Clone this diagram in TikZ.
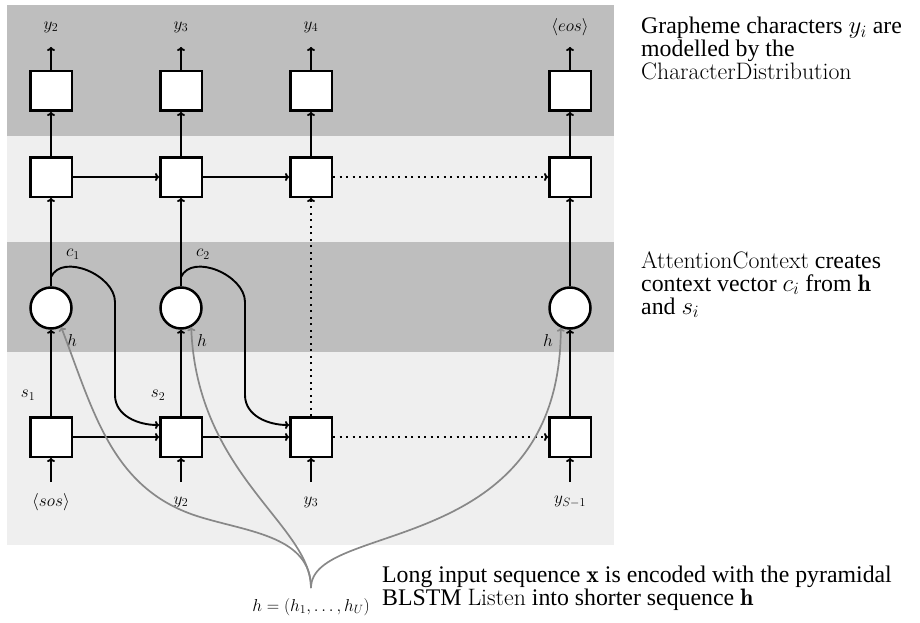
\documentclass[tikz,border=0pt]{standalone}
\usepackage{fontspec}
\newfontfamily\tnr{Liberation Serif}
\usetikzlibrary{arrows.meta,calc}
\definecolor{bandD}{HTML}{BEBEBE}
\definecolor{bandL}{HTML}{EFEFEF}
\definecolor{hgray}{HTML}{888888}
\begin{document}
\begin{tikzpicture}[x=1pt,y=-1pt,
  cell/.style={draw, line width=2.5pt, fill=white, minimum width=41.5pt, minimum height=39.5pt, inner sep=0pt},
  attn/.style={draw, circle, line width=2.5pt, fill=white, minimum size=41pt, inner sep=0pt},
  lbl/.style={font=\fontsize{18}{21}\selectfont, inner sep=0pt},
  conn/.style={line width=1.9pt, -{To[length=4pt,width=8pt]}},
  dotconn/.style={conn, dash pattern=on 2pt off 4.5pt},
  gconn/.style={line width=1.7pt, draw=hgray, -{To[length=4pt,width=8pt]}},
  txt/.style={font=\tnr\fontsize{23.8}{23}\selectfont, align=left, inner sep=0pt, anchor=base west}]
\useasboundingbox (0,0) rectangle (920,623);
% bands
\fill[bandD] (6.5,5) rectangle (614,136);
\fill[bandL] (6.5,136) rectangle (614,242);
\fill[bandD] (6.5,242) rectangle (614,352);
\fill[bandL] (6.5,352) rectangle (614,545);
% top output boxes
\node[cell] (o1) at (51,91) {};
\node[cell] (o2) at (181,91) {};
\node[cell] (o3) at (311,91) {};
\node[cell] (o4) at (570,91) {};
% decoder state boxes
\node[cell] (r1) at (51,177) {};
\node[cell] (r2) at (181,177) {};
\node[cell] (r3) at (311,177) {};
\node[cell] (r4) at (570,177) {};
% attention circles
\node[attn] (a1) at (51,308) {};
\node[attn] (a2) at (181,308) {};
\node[attn] (a4) at (570,308) {};
% bottom boxes
\node[cell] (b1) at (51,437) {};
\node[cell] (b2) at (181,437) {};
\node[cell] (b3) at (311,437) {};
\node[cell] (b4) at (570,437) {};
% top labels
\node[lbl] (ty1) at (51,27) {$y_2$};
\node[lbl] (ty2) at (181,27) {$y_3$};
\node[lbl] (ty3) at (311,27) {$y_4$};
\node[lbl] (ty4) at (570,27) {$\langle eos\rangle$};
\foreach \i/\x in {1/51,2/181,3/311,4/570}{
  \coordinate (tt\i) at (\x,47);
  \coordinate (bs\i) at (\x,482);
  \draw[conn] (o\i.north) -- (tt\i);
  \draw[conn] (bs\i) -- (b\i.south);
  \draw[conn] (r\i) -- (o\i);
}
% bottom labels
\node[lbl] (bl1) at (51,502) {$\langle sos\rangle$};
\node[lbl] (bl2) at (181,502) {$y_2$};
\node[lbl] (bl3) at (311,502) {$y_3$};
\node[lbl] (bl4) at (570,502) {$y_{S-1}$};
% vertical connections
\draw[conn] (a1) -- (r1);
\draw[conn] (a2) -- (r2);
\draw[conn] (a4) -- (r4);
\draw[conn] (b1) -- (a1);
\draw[conn] (b2) -- (a2);
\draw[conn] (b4) -- (a4);
\draw[dotconn] (b3) -- (r3);
% horizontal connections
\draw[conn] (r1) -- (r2);
\draw[conn] (r2) -- (r3);
\draw[dotconn] (r3) -- (r4);
\draw[conn] (b1) -- (b2);
\draw[conn] (b2) -- (b3);
\draw[dotconn] (b3) -- (b4);
% context curves
\coordinate (c1s) at (51,277);
\coordinate (c2s) at (181,277);
\draw[conn] (c1s) to[out=65,in=90] (115,302) -- (115,395) to[out=-90,in=180] ($(b2.west)+(0,-12)$);
\draw[conn] (c2s) to[out=65,in=90] (245,302) -- (245,395) to[out=-90,in=180] ($(b3.west)+(0,-12)$);
\node[lbl] (cl1) at (73,254) {$c_1$};
\node[lbl] (cl2) at (203,254) {$c_2$};
\node[lbl] (sl1) at (28,395) {$s_1$};
\node[lbl] (sl2) at (158,395) {$s_2$};
\node[lbl] (hl1) at (72,340) {$h$};
\node[lbl] (hl2) at (202,340) {$h$};
\node[lbl] (hl4) at (548,340) {$h$};
% encoder curves
\coordinate (hc) at (311,588);
\node[lbl] (hseq) at (311,607) {$h=(h_1,\ldots,h_U)$};
\draw[gconn] (hc) to[out=90,in=-17] (200,517) to[out=163,in=-69] (a1.-62);
\draw[gconn] (hc) .. controls (311,525) and (197,475) .. (a2.-62);
\draw[gconn] (hc) .. controls (311,520) and (560,560) .. (a4.-115);
% side texts
\node[txt] (t1) at (641,80) {Grapheme characters $y_i$ are\\modelled by the\\{\normalfont CharacterDistribution}};
\node[txt] (t2) at (641,314) {{\normalfont AttentionContext} creates\\context vector $c_i$ from $\mathbf{h}$\\and $s_i$};
\node[txt] (t3) at (382,605) {Long input sequence $\mathbf{x}$ is encoded with the pyramidal\\BLSTM {\normalfont Listen} into shorter sequence $\mathbf{h}$};
\end{tikzpicture}
\end{document}
